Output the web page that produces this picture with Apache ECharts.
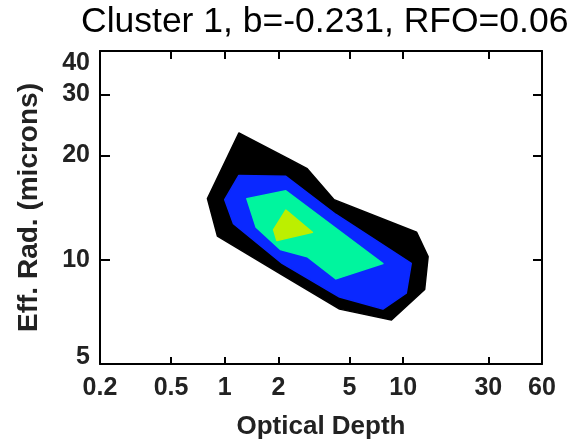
<!DOCTYPE html>
<html>
<head>
<meta charset="utf-8">
<script src="https://cdn.jsdelivr.net/npm/echarts@6/dist/echarts.min.js"></script>
<style>
  html, body { margin: 0; padding: 0; background: #fff; }
  #chart { width: 576px; height: 445px; }
</style>
</head>
<body>
<div id="chart"></div>
<script>
// Tick values on each axis (log scales)
const tauTicks = [0.2, 0.5, 1, 2, 5, 10, 30, 60];
const reTicks = [5, 10, 20, 30, 40];

// Filled contour levels: [optical depth, effective radius (microns)] outlines
const levelOuter = [
  [1.2, 23.2], [2.3, 19.5], [2.9, 18.3], [4.1, 14.9], [11.9, 12.0],
  [13.8, 10.2], [13.2, 8.2], [8.6, 6.7], [4.4, 7.2], [2.05, 9.1],
  [0.91, 11.7], [0.8, 15.0]
];
const levelLow = [
  [1.2, 17.5], [2.2, 17.4], [4.2, 13.5], [11.1, 9.75], [10.4, 8.0],
  [7.7, 7.2], [4.4, 7.8], [2.1, 9.75], [1.12, 12.7], [1.0, 14.9]
];
const levelMid = [
  [1.33, 15.0], [2.2, 15.8], [7.7, 9.75], [4.2, 8.8], [2.9, 10.2],
  [2.05, 10.7], [1.5, 12.4]
];
const levelHigh = [
  [2.2, 13.9], [3.1, 12.0], [1.96, 11.35], [1.88, 12.2]
];
const levelColors = ['#000000', '#0a28ff', '#00f59e', '#bcef00'];

const FONT = '"Liberation Sans", Arial, sans-serif';
const lg = Math.log10;

function contourSeries(points, color) {
  return {
    type: 'custom',
    coordinateSystem: 'cartesian2d',
    data: points.map(p => [lg(p[0]), lg(p[1])]),
    silent: true,
    renderItem: function (params, api) {
      if (params.dataIndex !== 0) return null;
      const pts = points.map(p => api.coord([lg(p[0]), lg(p[1])]));
      return {
        type: 'polygon',
        shape: { points: pts },
        style: { fill: color, stroke: color, lineWidth: 1.5, lineJoin: 'round' }
      };
    }
  };
}

function fmtTick(v) {
  const n = Math.pow(10, v);
  return String(Math.round(n * 10) / 10);
}

// Bottom y label is lifted a little so it sits just above the x axis line
function fmtReTick(v) {
  const s = fmtTick(v);
  return Math.abs(v - lg(reTicks[0])) < 1e-9 ? '{lo|' + s + '}' : s;
}

const axisLineStyle = { show: true, onZero: false, lineStyle: { color: '#000', width: 2 } };
const tickStyle = { color: '#000', width: 2 };
const labelStyle = {
  fontSize: 25, fontWeight: 'bold', color: '#222', fontFamily: FONT
};
const nameStyle = {
  fontSize: 26, fontWeight: 'bold', color: '#222', fontFamily: FONT
};

const xMin = lg(0.2), xMax = lg(60);
const yMin = lg(5), yMax = lg(40);

const chart = echarts.init(document.getElementById('chart'), null, { renderer: 'canvas' });
chart.setOption({
  backgroundColor: '#fff',
  animation: false,
  title: {
    text: 'Cluster 1, b=-0.231, RFO=0.06',
    left: 81,
    top: 4,
    padding: 0,
    textStyle: { fontSize: 35.5, fontWeight: 'normal', color: '#000', fontFamily: FONT }
  },
  grid: { left: 100, right: 34, top: 51, bottom: 77, show: false },
  xAxis: [
    {
      type: 'value', min: xMin, max: xMax, position: 'bottom',
      axisLine: axisLineStyle,
      axisTick: { show: true, inside: true, length: 7, lineStyle: tickStyle,
        customValues: tauTicks.map(lg) },
      axisLabel: Object.assign({ show: true, margin: 12,
        customValues: tauTicks.map(lg), formatter: fmtTick }, labelStyle),
      splitLine: { show: false },
      name: 'Optical Depth', nameLocation: 'middle', nameGap: 50,
      nameTextStyle: nameStyle
    },
    {
      type: 'value', min: xMin, max: xMax, position: 'top',
      axisLine: axisLineStyle,
      axisTick: { show: true, inside: true, length: 8, lineStyle: tickStyle,
        customValues: tauTicks.map(lg) },
      axisLabel: { show: false },
      splitLine: { show: false }
    }
  ],
  yAxis: [
    {
      type: 'value', min: yMin, max: yMax, position: 'left',
      axisLine: axisLineStyle,
      axisTick: { show: true, inside: true, length: 10, lineStyle: tickStyle,
        customValues: reTicks.map(lg) },
      axisLabel: Object.assign({ show: true, margin: 10,
        customValues: reTicks.map(lg), formatter: fmtReTick,
        verticalAlignMaxLabel: 'top',
        rich: { lo: { padding: [0, 0, 14, 0], fontSize: 25, fontWeight: 'bold',
          color: '#222', fontFamily: FONT } } }, labelStyle),
      splitLine: { show: false },
      name: 'Eff. Rad. (microns)', nameLocation: 'middle', nameGap: 57,
      nameTextStyle: Object.assign({}, nameStyle, { fontSize: 28 })
    },
    {
      type: 'value', min: yMin, max: yMax, position: 'right',
      axisLine: axisLineStyle,
      axisTick: { show: true, inside: true, length: 9, lineStyle: tickStyle,
        customValues: reTicks.map(lg) },
      axisLabel: { show: false },
      splitLine: { show: false }
    }
  ],
  series: [
    contourSeries(levelOuter, levelColors[0]),
    contourSeries(levelLow, levelColors[1]),
    contourSeries(levelMid, levelColors[2]),
    contourSeries(levelHigh, levelColors[3])
  ]
});
</script>
</body>
</html>
